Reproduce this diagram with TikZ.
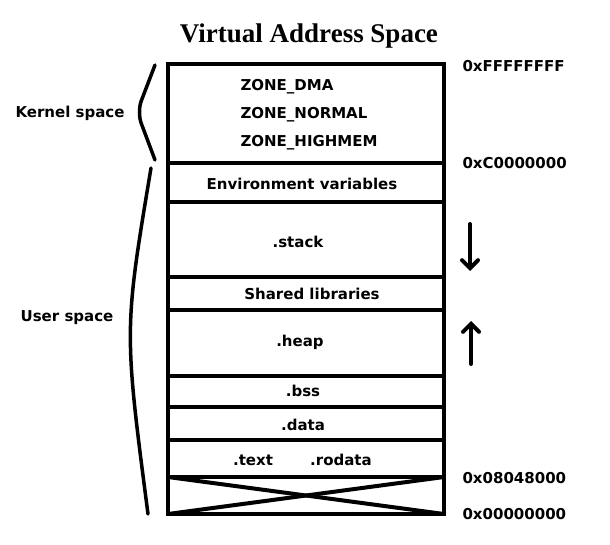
\documentclass[tikz,border=0pt]{standalone}
\usepackage{fontspec}
\setmainfont{DejaVu Sans}
\newfontfamily\titlefont{Liberation Serif}
\usetikzlibrary{arrows, arrows.meta}
\tikzset{>=latex}
\tikzset{
  seg/.style={font=\fontsize{15}{17}\selectfont\bfseries, anchor=center},
  addr/.style={font=\fontsize{15}{17}\selectfont\bfseries, anchor=west},
  wall/.style={line width=4pt},
  growarrow/.style={line width=4pt, line cap=round, -{Straight Barb[length=8pt, width=16pt, line cap=round]}}
}
\begin{document}
\begin{tikzpicture}[x=1pt,y=-1pt]
\useasboundingbox[fill=white] (0,0) rectangle (610,544);
% title
\node[font=\titlefont\fontsize{27}{29}\selectfont\bfseries] (title) at (309, 36) {Virtual Address Space};
% the box and its rows
\draw[wall] (168, 64) rectangle (444, 514);
\foreach \y in {163, 202, 277, 310, 376, 407, 440, 477}
  \draw[wall] (168, \y) -- (444, \y);
\draw[wall] (168, 477) -- (444, 514);
\draw[wall] (168, 514) -- (444, 477);
% kernel part
\node[seg, anchor=west] (dma) at (237, 87) {ZONE\_DMA};
\node[seg, anchor=west] (normal) at (237, 115) {ZONE\_NORMAL};
\node[seg, anchor=west] (highmem) at (237, 143) {ZONE\_HIGHMEM};
% user part
\node[seg] (env) at (302, 184) {Environment variables};
\node[seg] (stack) at (298, 242) {.stack};
\node[seg] (shlib) at (312, 294) {Shared libraries};
\node[seg] (heap) at (300, 342) {.heap};
\node[seg] (bss) at (303, 391) {.bss};
\node[seg] (data) at (303, 425) {.data};
\node[seg] (text) at (253, 460) {.text};
\node[seg] (rodata) at (341, 460) {.rodata};
% addresses
\node[addr] (top) at (459, 66) {0xFFFFFFFF};
\node[addr] (split) at (459, 163) {0xC0000000};
\node[addr] (start) at (459, 478) {0x08048000};
\node[addr] (zero) at (459, 514) {0x00000000};
% growth arrows
\coordinate (stacka) at (470, 224);
\coordinate (stackb) at (470, 271);
\coordinate (heapa) at (471, 364);
\coordinate (heapb) at (471, 321);
\draw[growarrow] (stacka) -- (stackb);
\draw[growarrow] (heapa) -- (heapb);
% braces
\draw[line width=3.5pt, line cap=round, rounded corners=12pt] (155, 65) -- (137, 112) -- (155, 160);
\draw[line width=3.5pt, line cap=round] (151, 168) .. controls (124, 330) .. (148, 514);
\node[seg] (kernel) at (70, 113) {Kernel space};
\node[seg] (user) at (67, 318) {User space};
\end{tikzpicture}
\end{document}
